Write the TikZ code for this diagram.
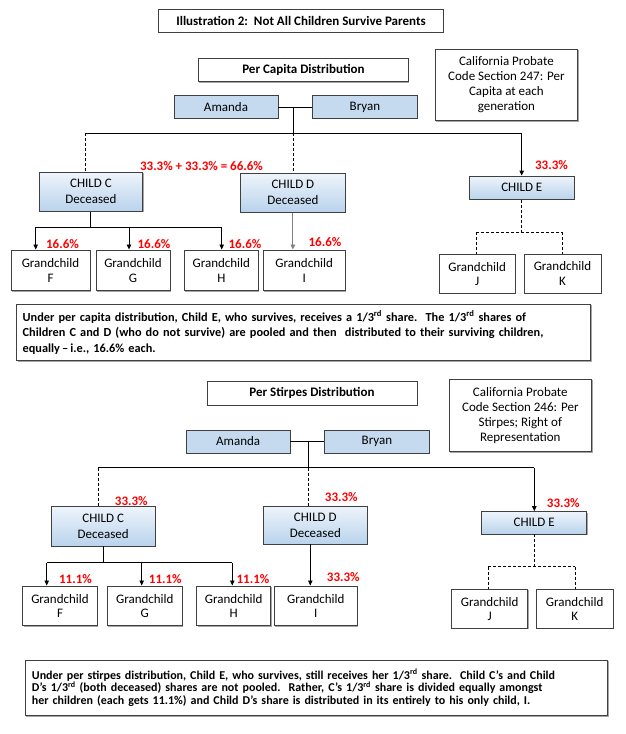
\documentclass[tikz,border=0pt]{standalone}
\usepackage{fontspec}
\setmainfont{Carlito}
\usetikzlibrary{arrows.meta,shadows}
\definecolor{bluefill}{HTML}{C5DAEF}
\definecolor{gradtop}{HTML}{EEF4FB}
\definecolor{gradbot}{HTML}{B9D3EC}
\definecolor{edge}{HTML}{404040}
\definecolor{redlab}{HTML}{FF0000}
\tikzset{
  box/.style={draw=edge, line width=0.9pt, inner sep=0pt, align=center, font=\fontsize{13}{14.5}\selectfont,
    drop shadow={shadow xshift=0.9pt, shadow yshift=-0.9pt, fill=black!35, opacity=1}},
  parent/.style={box, fill=bluefill},
  childbox/.style={box, top color=gradtop, bottom color=gradbot, font=\fontsize{13}{16}\selectfont},
  gbox/.style={box, fill=white},
  headbox/.style={box, fill=white, font=\bfseries\fontsize{13}{15}\selectfont},
  calbox/.style={box, fill=white, font=\fontsize{13}{15}\selectfont},
  note/.style={box, fill=white, align=left, inner xsep=6pt},
  pct/.style={text=redlab, font=\bfseries\fontsize{13}{15}\selectfont, inner sep=0pt},
  conn/.style={line width=0.9pt, black},
  dsh/.style={conn, dash pattern=on 3pt off 2pt},
  arr/.style={conn, -{Triangle[length=5pt,width=4.5pt]}},
}
\begin{document}
\begin{tikzpicture}[x=1pt, y=-1pt]
\useasboundingbox (0,0) rectangle (625,734);
\fill[white] (0,0) rectangle (625,734);

% ---------- title ----------
\node[headbox, minimum width=285pt, minimum height=23.3pt] (title) at (301,20.7) {Illustration 2:\ \ Not All Children Survive Parents};

% ---------- Per capita ----------
\node[headbox, minimum width=210pt, minimum height=23.4pt] (pcap) at (303.4,70) {Per Capita Distribution};
\node[calbox, minimum width=142.7pt, minimum height=71.4pt] (cal1) at (506.4,85) {California Probate\\Code Section 247: Per\\Capita at each\\generation};
\node[parent, minimum width=104pt, minimum height=22.6pt] (amanda1) at (226,107) {Amanda};
\node[parent, minimum width=104.3pt, minimum height=22.6pt] (bryan1) at (364.9,107) {Bryan};

\node[childbox, minimum width=103.7pt, minimum height=38.7pt] (childC1) at (90.9,191.7) {CHILD C\\Deceased};
\node[childbox, minimum width=104.3pt, minimum height=39pt] (childD1) at (292.9,192.8) {CHILD D\\Deceased};
\node[childbox, minimum width=105pt, minimum height=23.3pt] (childE1) at (521.8,187.7) {CHILD E};

\node[gbox, minimum width=79pt, minimum height=40.7pt] (gF1) at (50.5,270.3) {Grandchild\\F};
\node[gbox, minimum width=74pt, minimum height=40.7pt] (gG1) at (133,270.3) {Grandchild\\G};
\node[gbox, minimum width=74pt, minimum height=40.7pt] (gH1) at (221.3,270.3) {Grandchild\\H};
\node[gbox, minimum width=81.7pt, minimum height=40.7pt] (gI1) at (304.2,270.3) {Grandchild\\I};
\node[gbox, minimum width=75.7pt, minimum height=39pt] (gJ1) at (477.2,273.8) {Grandchild\\J};
\node[gbox, minimum width=77pt, minimum height=39pt] (gK1) at (562.5,273.6) {Grandchild\\K};

\node[pct] (sum1) at (201.5,166) {33.3\% + 33.3\% = 66.6\%};
\node[pct] (pE1) at (551.5,165) {33.3\%};
\node[pct] (pF1) at (62.5,244) {16.6\%};
\node[pct] (pG1) at (154,244) {16.6\%};
\node[pct] (pH1) at (245,244) {16.6\%};
\node[pct] (pI1) at (325,241.7) {16.6\%};

\coordinate (j1) at (293,107);
\coordinate (h1) at (293,133);
\coordinate (hl1) at (85.7,133);
\coordinate (hr1) at (521.7,133);
\draw[conn] (amanda1.east) -- (bryan1.west);
\draw[conn] (j1) -- (h1);
\draw[conn] (hl1) -- (hr1);
\draw[dsh] (hl1) -- (hl1 |- childC1.north);
\draw[dsh] (h1) -- (h1 |- childD1.north);
\draw[arr] (hr1) -- (hr1 |- childE1.north);

\coordinate (cf1) at (35.7,227.3);
\coordinate (cg1) at (129,227.3);
\coordinate (ch1) at (221.7,227.3);
\draw[conn] (childC1.south) -- (childC1.south |- cf1);
\draw[conn] (cf1) -- (ch1);
\draw[arr] (cf1) -- (cf1 |- gF1.north);
\draw[arr] (cg1) -- (cg1 |- gG1.north);
\draw[arr] (ch1) -- (ch1 |- gH1.north);
\draw[arr, draw=gray] (childD1.south) -- (childD1.south |- gI1.north);

\coordinate (eh1) at (476,232.3);
\coordinate (ek1) at (562.3,232.3);
\draw[dsh] (childE1.south) -- (childE1.south |- eh1);
\draw[dsh] (eh1) -- (ek1);
\draw[dsh] (eh1) -- (eh1 |- gJ1.north);
\draw[dsh] (ek1) -- (ek1 |- gK1.north);

\node[note, minimum width=574pt, minimum height=56.4pt, text width=562pt,
      font=\bfseries\fontsize{12.3}{15.5}\selectfont] (note1) at (303.7,332.5)
{Under per capita distribution, Child E, who survives, receives a 1/3\textsuperscript{rd} share.\ \ The 1/3\textsuperscript{rd} shares of\\
Children C and D (who do not survive) are pooled and then\ \ distributed to their surviving children,\\
equally\,–\,i.e., 16.6\% each.};

% ---------- Per stirpes ----------
\node[headbox, minimum width=210pt, minimum height=23.3pt] (pst) at (312,393.3) {Per Stirpes Distribution};
\node[calbox, minimum width=142.6pt, minimum height=72.7pt] (cal2) at (520.3,415.3) {California Probate\\Code Section 246: Per\\Stirpes; Right of\\Representation};
\node[parent, minimum width=103.5pt, minimum height=23pt] (amanda2) at (238.2,441.5) {Amanda};
\node[parent, minimum width=104.3pt, minimum height=23pt] (bryan2) at (376.9,441.5) {Bryan};

\node[childbox, minimum width=104.3pt, minimum height=39.3pt] (childC2) at (103.2,526.3) {CHILD C\\Deceased};
\node[childbox, minimum width=104pt, minimum height=38.3pt] (childD2) at (315.3,525.2) {CHILD D\\Deceased};
\node[childbox, minimum width=105pt, minimum height=22.3pt] (childE2) at (534.2,522.8) {CHILD E};

\node[gbox, minimum width=74.6pt, minimum height=39.7pt] (gF2) at (60,605.8) {Grandchild\\F};
\node[gbox, minimum width=75pt, minimum height=39.7pt] (gG2) at (144.8,605.8) {Grandchild\\G};
\node[gbox, minimum width=74pt, minimum height=39.7pt] (gH2) at (233.7,605.8) {Grandchild\\H};
\node[gbox, minimum width=83pt, minimum height=39.7pt] (gI2) at (315.8,605.8) {Grandchild\\I};
\node[gbox, minimum width=76pt, minimum height=39pt] (gJ2) at (489.7,608.8) {Grandchild\\J};
\node[gbox, minimum width=77.3pt, minimum height=39pt] (gK2) at (574.7,608.8) {Grandchild\\K};

\node[pct] (pC2) at (131.3,500.7) {33.3\%};
\node[pct] (pD2) at (341.3,496.7) {33.3\%};
\node[pct] (pE2) at (563.3,502.7) {33.3\%};
\node[pct] (pF2) at (75.5,579) {11.1\%};
\node[pct] (pG2) at (165.3,579) {11.1\%};
\node[pct] (pH2) at (253,579) {11.1\%};
\node[pct] (pI2) at (343.3,577.3) {33.3\%};

\coordinate (j2) at (308.8,441.5);
\coordinate (h2) at (308.8,467.7);
\coordinate (hl2) at (98.3,467.7);
\coordinate (hr2) at (534.3,467.7);
\draw[conn] (amanda2.east) -- (bryan2.west);
\draw[conn] (j2) -- (h2);
\draw[conn] (hl2) -- (hr2);
\draw[dsh] (hl2) -- (hl2 |- childC2.north);
\draw[dsh] (h2) -- (h2 |- childD2.north);
\draw[arr] (hr2) -- (hr2 |- childE2.north);

\coordinate (cf2) at (46.7,562.7);
\coordinate (cg2) at (141.7,562.7);
\coordinate (ch2) at (232.3,562.7);
\draw[conn] (childC2.south) -- (childC2.south |- cf2);
\draw[conn] (cf2) -- (ch2);
\draw[arr] (cf2) -- (cf2 |- gF2.north);
\draw[arr] (cg2) -- (cg2 |- gG2.north);
\draw[arr] (ch2) -- (ch2 |- gH2.north);
\coordinate (di2) at (310.3,544.3);
\draw[arr] (di2) -- (di2 |- gI2.north);

\coordinate (eh2) at (488.3,566.7);
\coordinate (ek2) at (575,566.7);
\draw[dsh] (childE2.south) -- (childE2.south |- eh2);
\draw[dsh] (eh2) -- (ek2);
\draw[dsh] (eh2) -- (eh2 |- gJ2.north);
\draw[dsh] (ek2) -- (ek2 |- gK2.north);

\node[note, minimum width=582.7pt, minimum height=55.7pt, text width=568.7pt, inner xsep=7pt,
      font=\bfseries\fontsize{12}{12.5}\selectfont] (note2) at (316.3,687.8)
{Under per stirpes distribution, Child E, who survives, still receives her 1/3\textsuperscript{rd} share.\ \ Child C’s and Child\\
D’s 1/3\textsuperscript{rd} (both deceased) shares are not pooled.\ \ Rather, C’s 1/3\textsuperscript{rd} share is divided equally amongst\\
her children (each gets 11.1\%) and Child D’s share is distributed in its entirely to his only child, I.};
\end{tikzpicture}
\end{document}
